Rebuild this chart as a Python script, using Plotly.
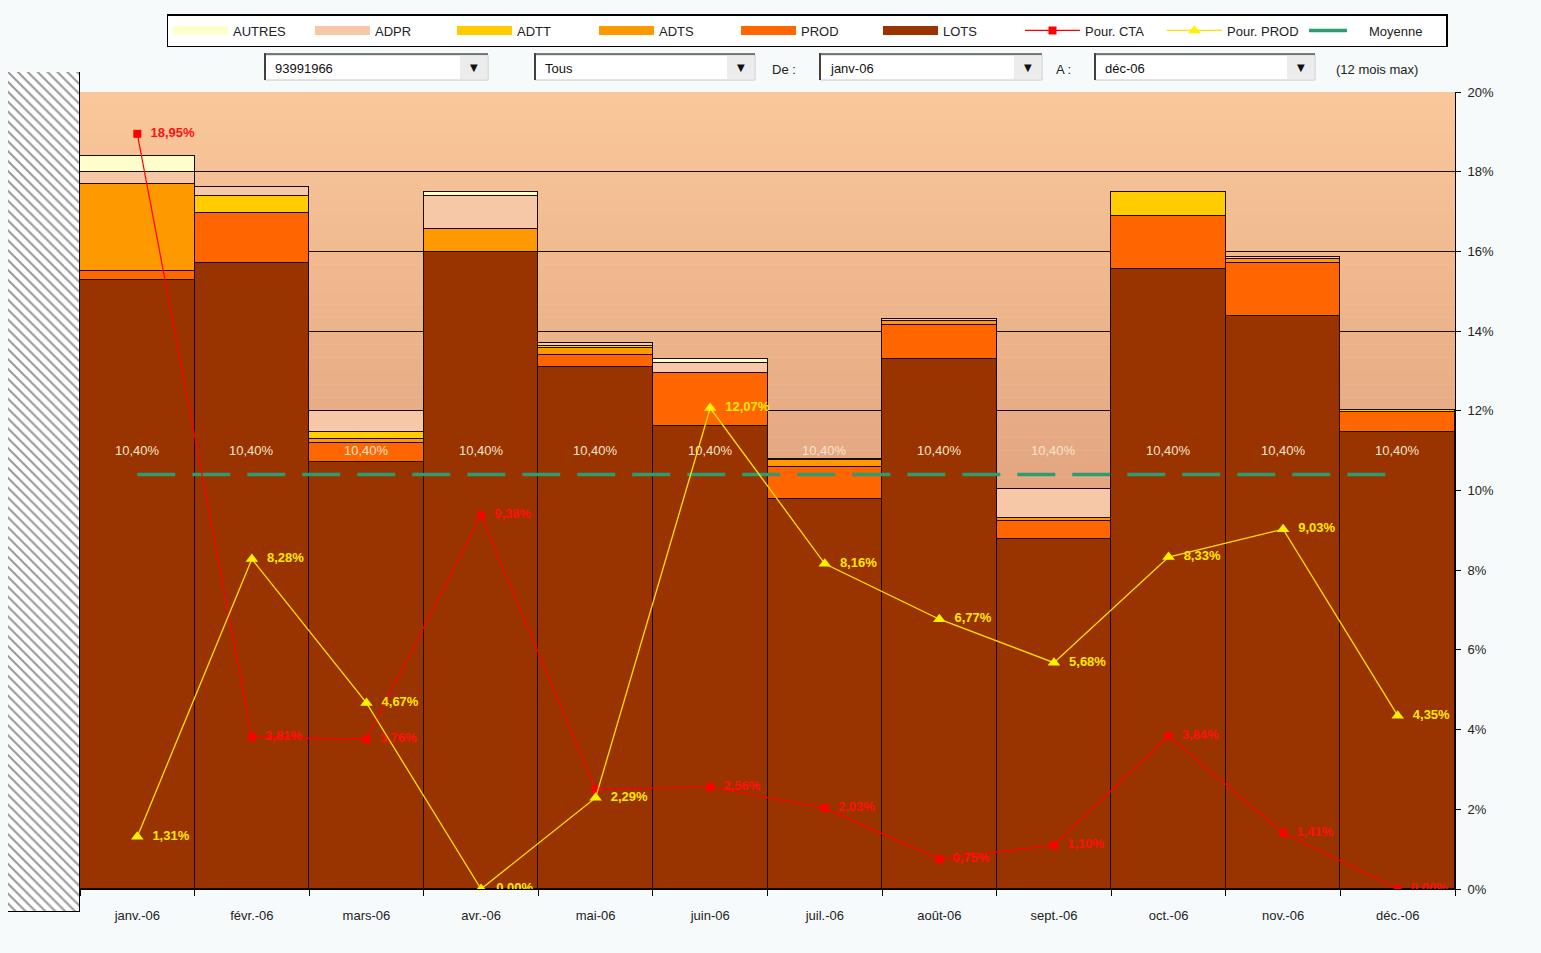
import plotly.graph_objects as go

# ---------------- data ----------------
months = ['janv.-06', 'févr.-06', 'mars-06', 'avr.-06', 'mai-06', 'juin-06',
          'juil.-06', 'août-06', 'sept.-06', 'oct.-06', 'nov.-06', 'déc.-06']

LOTS = [15.28, 15.70, 10.72, 15.99, 13.09, 11.62, 9.79, 13.30, 8.78, 15.57, 14.38, 11.47]
PROD = [0.23, 1.27, 0.47, 0.00, 0.31, 1.34, 0.79, 0.85, 0.46, 1.32, 1.32, 0.49]
ADTS = [2.18, 0.00, 0.10, 0.57, 0.17, 0.00, 0.19, 0.10, 0.06, 0.00, 0.12, 0.00]
ADTT = [0.00, 0.42, 0.18, 0.00, 0.06, 0.00, 0.00, 0.00, 0.00, 0.59, 0.00, 0.05]
ADPR = [0.30, 0.22, 0.53, 0.83, 0.06, 0.24, 0.02, 0.05, 0.74, 0.00, 0.05, 0.00]
AUTRES = [0.40, 0.00, 0.00, 0.09, 0.00, 0.10, 0.00, 0.00, 0.00, 0.00, 0.00, 0.00]

pour_cta = [18.95, 3.81, 3.76, 9.38, 2.50, 2.56, 2.03, 0.75, 1.10, 3.84, 1.41, 0.00]
pour_prod = [1.31, 8.28, 4.67, 0.00, 2.29, 12.07, 8.16, 6.77, 5.68, 8.33, 9.03, 4.35]
moyenne = [10.40] * 12

y_ticks = [0, 2, 4, 6, 8, 10, 12, 14, 16, 18, 20]

# selector texts
sel_client = '93991966'
sel_type = 'Tous'
sel_from = 'janv-06'
sel_to = 'déc-06'

# ---------------- styles ----------------
FONT = 'Liberation Sans, Arial, sans-serif'
W, H = 1541, 953
ML, MR, MT, MB = 8, 86, 72, 41
PW, PH = W - ML - MR, H - MT - MB


def px_x(p):
    return (p - ML) / PW


def px_y(p):
    return (H - MB - p) / PH


def fmt(v):
    return f"{v:.2f}".replace('.', ',') + '%'


series = [
    ('LOTS', LOTS, '#993300'),
    ('PROD', PROD, '#FF6600'),
    ('ADTS', ADTS, '#FF9900'),
    ('ADTT', ADTT, '#FFCC00'),
    ('ADPR', ADPR, '#F7C8A8'),
    ('AUTRES', AUTRES, '#FFFFCC'),
]
legend_rank = {'AUTRES': 1, 'ADPR': 2, 'ADTT': 3, 'ADTS': 4, 'PROD': 5, 'LOTS': 6}

fig = go.Figure()

for name, vals, col in series:
    fig.add_trace(go.Bar(
        x=months, y=vals, name=name, marker=dict(color=col, line=dict(color='#1a0a00', width=1.2)),
        showlegend=False, legendgroup=name, hovertemplate='%{x}: %{y:.2f}%<extra>' + name + '</extra>'))
    # legend swatch (wide rectangle look)
    fig.add_trace(go.Scatter(
        x=[None], y=[None], mode='lines', name=name, legendgroup=name,
        line=dict(color=col, width=9), legendrank=legend_rank[name]))

# hatched box on the left
fig.add_trace(go.Bar(
    x=[0], y=[1], width=[1], xaxis='x2', yaxis='y2', showlegend=False, hoverinfo='skip',
    marker=dict(color='white', line=dict(color='black', width=1.5),
                pattern=dict(shape='\\', fgcolor='#333333', bgcolor='white', size=7, solidity=0.3))))

# Moyenne
fig.add_trace(go.Scatter(
    x=months, y=moyenne, mode='lines', name='Moyenne',
    line=dict(color='#2E9B70', width=3.5, dash='38px,17px'), legendrank=9))

# Pour. CTA (the May label is hidden behind the PROD label in the original)
cta_text = ['  ' + fmt(v) for v in pour_cta]
cta_text[4] = ''
fig.add_trace(go.Scatter(
    x=months, y=pour_cta, mode='lines+markers+text', name='Pour. CTA',
    line=dict(color='#FF0000', width=1.2),
    marker=dict(symbol='square', size=8, color='#FF0000'),
    text=cta_text, textposition='middle right',
    textfont=dict(color='#FF1010', size=13, family=FONT, weight='bold'),
    legendrank=7))

# Pour. PROD
fig.add_trace(go.Scatter(
    x=months, y=pour_prod, mode='lines+markers+text', name='Pour. PROD',
    line=dict(color='#FFE000', width=1.3),
    marker=dict(symbol='triangle-up', size=11, color='#FFF000'),
    text=['  ' + fmt(v) for v in pour_prod], textposition='middle right',
    textfont=dict(color='#FFE800', size=13, family=FONT, weight='bold'),
    legendrank=8))

annotations = []
for m, v in zip(months, moyenne):
    annotations.append(dict(x=m, y=v, xref='x', yref='y', text=fmt(v), showarrow=False,
                            yshift=24, font=dict(color='#F6E4CC', size=13, family=FONT)))

shapes = []
# vertical gradient of the plot background
n = 60
top = (0xF9, 0xC7, 0x9A)
bot = (0xCC, 0x84, 0x66)
for i in range(n):
    t = i / (n - 1)
    c = tuple(round(bot[k] + (top[k] - bot[k]) * t) for k in range(3))
    shapes.append(dict(type='rect', xref='x domain', yref='y domain', x0=0, x1=1,
                       y0=i / n, y1=(i + 1) / n, fillcolor='rgb(%d,%d,%d)' % c,
                       line=dict(width=0), layer='below'))


def dropbox(x0, x1, label):
    y0, y1 = 55, 80
    shapes.append(dict(type='rect', xref='paper', yref='paper', x0=px_x(x0), x1=px_x(x1),
                       y0=px_y(y1), y1=px_y(y0), fillcolor='white', line=dict(color='#c8c8c8', width=1)))
    shapes.append(dict(type='rect', xref='paper', yref='paper', x0=px_x(x1 - 28), x1=px_x(x1 - 1),
                       y0=px_y(y1 - 1), y1=px_y(y0 + 1), fillcolor='#ECECEC', line=dict(width=0)))
    shapes.append(dict(type='line', xref='paper', yref='paper', x0=px_x(x0), x1=px_x(x0),
                       y0=px_y(y1), y1=px_y(y0 - 2), line=dict(color='#404040', width=2)))
    shapes.append(dict(type='line', xref='paper', yref='paper', x0=px_x(x0), x1=px_x(x1),
                       y0=px_y(y0 - 1), y1=px_y(y0 - 1), line=dict(color='#505050', width=1.5)))
    annotations.append(dict(x=px_x(x0 + 8), y=px_y(68), xref='paper', yref='paper', text=label,
                            xanchor='left', yanchor='middle', showarrow=False,
                            font=dict(size=13, color='#111', family=FONT)))
    annotations.append(dict(x=px_x(x1 - 14), y=px_y(67), xref='paper', yref='paper', text='▼',
                            xanchor='center', yanchor='middle', showarrow=False,
                            font=dict(size=10, color='#111', family='DejaVu Sans')))


dropbox(265, 488, sel_client)
dropbox(535, 755, sel_type)
dropbox(820, 1042, sel_from)
dropbox(1095, 1315, sel_to)
for xp, txt in [(770, 'De :'), (1054, 'A :'), (1334, '(12 mois max)')]:
    annotations.append(dict(x=px_x(xp), y=px_y(69), xref='paper', yref='paper', text=txt,
                            xanchor='left', yanchor='middle', showarrow=False,
                            font=dict(size=13, color='#222', family=FONT)))

fig.update_layout(
    width=W, height=H,
    margin=dict(l=ML, r=MR, t=MT, b=MB),
    paper_bgcolor='#F7FAFB', plot_bgcolor='#F9C79A',
    barmode='stack', bargap=0,
    font=dict(family=FONT, size=13, color='#222'),
    separators=', ',
    showlegend=True,
    legend=dict(orientation='h', x=px_x(807), xanchor='center', y=px_y(14), yanchor='top',
                bgcolor='white', bordercolor='black', borderwidth=1.5,
                font=dict(size=13, family=FONT, color='#222'),
                itemwidth=55, entrywidth=72, entrywidthmode='pixels', traceorder='normal'),
    xaxis=dict(domain=[px_x(80), px_x(1455)], range=[-0.5, 11.5], type='category',
               showgrid=False, showline=True, linecolor='black', linewidth=1,
               ticks='outside', tickson='boundaries', ticklen=6, tickcolor='black',
               ticklabelstandoff=14,
               tickfont=dict(size=13, color='#222')),
    yaxis=dict(domain=[px_y(889), px_y(92)], range=[0, 20], side='right',
               tickvals=y_ticks, ticktext=[f'{v}%' for v in y_ticks],
               showgrid=True, gridcolor='#1a0a00', gridwidth=1,
               showline=True, linecolor='black', linewidth=1,
               ticks='outside', ticklen=5, tickcolor='black', zeroline=False,
               ticklabelstandoff=4,
               tickfont=dict(size=13, color='#222')),
    xaxis2=dict(domain=[0, px_x(80)], range=[-0.5, 0.5], visible=False, anchor='y2'),
    yaxis2=dict(domain=[0, 1], range=[0, 1], visible=False, anchor='x2'),
    shapes=shapes, annotations=annotations,
)

fig.write_html('out.html')
